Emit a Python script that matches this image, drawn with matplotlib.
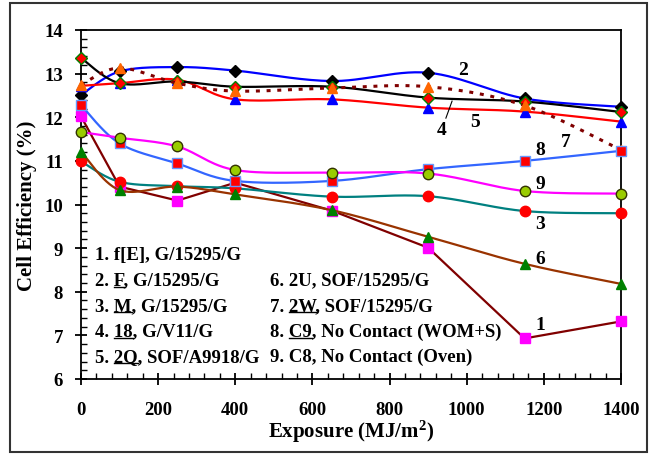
import numpy as np
import matplotlib
matplotlib.use("Agg")
import matplotlib.pyplot as plt
from matplotlib.patches import Rectangle
from matplotlib.ticker import MultipleLocator

plt.rcParams['font.family'] = ['Liberation Serif', 'DejaVu Serif']
plt.rcParams['font.weight'] = 'bold'
plt.rcParams['mathtext.fontset'] = 'custom'
plt.rcParams['mathtext.rm'] = 'Liberation Serif:bold'
plt.rcParams['mathtext.bf'] = 'Liberation Serif:bold'
plt.rcParams['mathtext.it'] = 'Liberation Serif:bold'

exposure = [0, 100, 250, 400, 650, 900, 1150, 1400]

s1_fE   = [12.02, 10.41, 10.09, 10.50, 9.86, 9.01, 6.93, 7.32]
s2_F    = [12.51, 13.05, 13.15, 13.07, 12.83, 13.02, 12.43, 12.24]
s3_M    = [10.99, 10.52, 10.42, 10.37, 10.18, 10.19, 9.85, 9.80]
s4_18   = [12.72, 12.78, 12.86, 12.41, 12.41, 12.22, 12.13, 11.90]
s5_2Q   = [13.36, 12.78, 12.82, 12.70, 12.70, 12.45, 12.36, 12.12]
s6_2U   = [11.21, 10.33, 10.41, 10.23, 9.87, 9.26, 8.64, 8.18]
s7_2W   = [12.74, 13.13, 12.78, 12.60, 12.67, 12.70, 12.27, 11.25]
s8_C9   = [12.28, 11.40, 10.94, 10.54, 10.54, 10.81, 11.00, 11.23]
s9_C8   = [11.66, 11.53, 11.33, 10.79, 10.73, 10.71, 10.31, 10.25]

left_col = [("1. ", "", "f[E], G/15295/G"),
            ("2. ", "F", ", G/15295/G"),
            ("3. ", "M", ", G/15295/G"),
            ("4. ", "18", ", G/V11/G"),
            ("5. ", "2Q", ", SOF/A9918/G")]
right_col = [("6. 2U, SOF/15295/G", "", ""),
             ("7. ", "2W", ", SOF/15295/G"),
             ("8. ", "C9", ", No Contact (WOM+S)"),
             ("9. C8, No Contact (Oven)", "", "")]

labels = ["1", "2", "3", "4", "5", "6", "7", "8", "9"]
label_pos = [(1190, 7.24), (990, 13.09), (1190, 9.56), (935, 11.71), (1021, 11.91),
             (1190, 8.76), (1257, 11.45), (1190, 11.25), (1190, 10.48)]


def smooth(x, y, n=30):
    P = np.column_stack([np.asarray(x, float), np.asarray(y, float)])
    P = np.vstack([P[0], P, P[-1]])
    out = []
    t = np.linspace(0, 1, n)[:, None]
    for i in range(1, len(P) - 2):
        p0, p1, p2, p3 = P[i - 1], P[i], P[i + 1], P[i + 2]
        seg = 0.5 * ((2 * p1) + (-p0 + p2) * t + (2 * p0 - 5 * p1 + 4 * p2 - p3) * t ** 2
                     + (-p0 + 3 * p1 - 3 * p2 + p3) * t ** 3)
        out.append(seg if i == 1 else seg[1:])
    out = np.vstack(out)
    return out[:, 0], out[:, 1]


fig = plt.figure(figsize=(6.5, 4.56), dpi=100)
ax = fig.add_axes([81 / 650, 1 - 380 / 456, 540 / 650, 349 / 456])

series = [
    (s1_fE, '#800000', '-', False, 's', '#FF00FF', '#FF00FF'),
    (s2_F, '#0000FF', '-', True, 'D', '#000000', '#000000'),
    (s3_M, '#008080', '-', True, 'o', '#FF0000', '#FF0000'),
    (s4_18, '#FF0000', '-', True, '^', '#0000FF', '#0000FF'),
    (s5_2Q, '#000000', '-', True, 'D', '#FF0000', '#008000'),
    (s6_2U, '#993300', '-', True, '^', '#008000', '#008000'),
    (s7_2W, '#800000', (0, (1.3, 2.2)), True, '^', '#FF6600', '#FF6600'),
    (s8_C9, '#3366FF', '-', True, 's', '#FF0000', '#6699FF'),
    (s9_C8, '#FF00FF', '-', True, 'o', '#99CC00', '#333300'),
]

for k, (vals, lc, ls, sm, mk, mfc, mec) in enumerate(series):
    z = 3 + k
    if sm:
        xs, ys = smooth(exposure, vals)
    else:
        xs, ys = exposure, vals
    ax.plot(xs, ys, color=lc, linestyle=ls, lw=1.6 if ls == '-' else 2.2,
            zorder=z, clip_on=False)
    ms = 7.5 if mk != 'D' else 6.5
    ax.plot(exposure, vals, linestyle='none', marker=mk, markersize=ms,
            markerfacecolor=mfc, markeredgecolor=mec, markeredgewidth=1.0,
            zorder=z + 0.5, clip_on=False)

ax.set_xlim(0, 1400)
ax.set_ylim(6, 14)
ax.xaxis.set_major_locator(MultipleLocator(200))
ax.xaxis.set_minor_locator(MultipleLocator(40))
ax.yaxis.set_major_locator(MultipleLocator(1))
ax.yaxis.set_minor_locator(MultipleLocator(0.2))
ax.tick_params(axis='both', which='major', direction='inout', length=8, width=1.3,
               labelsize=13.5, top=False, right=False)
ax.tick_params(axis='both', which='minor', direction='in', length=4, width=1.0,
               top=False, right=False)
ax.tick_params(axis='x', which='major', pad=12)
ax.tick_params(axis='y', which='major', pad=9)
for lab in ax.get_xticklabels() + ax.get_yticklabels():
    lab.set_fontweight('bold')
for sp in ax.spines.values():
    sp.set_linewidth(1.3)

ax.set_xlabel(r'Exposure (MJ/m$^{\mathbf{2}}$)', fontsize=15, fontweight='bold', labelpad=0)
ax.set_ylabel('Cell Efficiency (%)', fontsize=15, fontweight='bold', labelpad=5)

for lab, (lx, ly) in zip(labels, label_pos):
    ax.text(lx, ly, lab, fontsize=14, fontweight='bold', ha='center', va='center', zorder=20)
ax.plot([962, 946], [12.37, 11.98], color='black', lw=0.8, zorder=20)

# legend-like text block with underlines
renderer = fig.canvas.get_renderer()
LFS = 13.5


def text_w(s):
    t = fig.text(0, 0, s, fontsize=LFS, fontweight='bold')
    w = t.get_window_extent(renderer).width
    t.remove()
    return w


def rich(xpx, base_px, pre, und, post):
    full = pre + und + post
    fig.text(xpx / 650, 1 - base_px / 456, full, fontsize=LFS, fontweight='bold',
             ha='left', va='baseline', zorder=20)
    if und:
        w_end = text_w(pre + und)
        w_u = text_w(und)
        x1 = xpx + w_end
        x0 = x1 - w_u
        yy = 1 - (base_px + 2) / 456
        fig.add_artist(plt.Line2D([x0 / 650, x1 / 650], [yy, yy], color='black', lw=1.0))


baselines = [260, 285.5, 311, 336.5, 362]
for (pre, und, post), b in zip(left_col, baselines):
    rich(95, b, pre, und, post)
for (pre, und, post), b in zip(right_col, baselines[1:]):
    rich(270, b, pre, und, post)

fig.add_artist(Rectangle((10 / 650, 3 / 456), 637 / 650, 449 / 456, transform=fig.transFigure,
                         fill=False, edgecolor='#333333', lw=1.5))

fig.savefig('out.png', dpi=100)
